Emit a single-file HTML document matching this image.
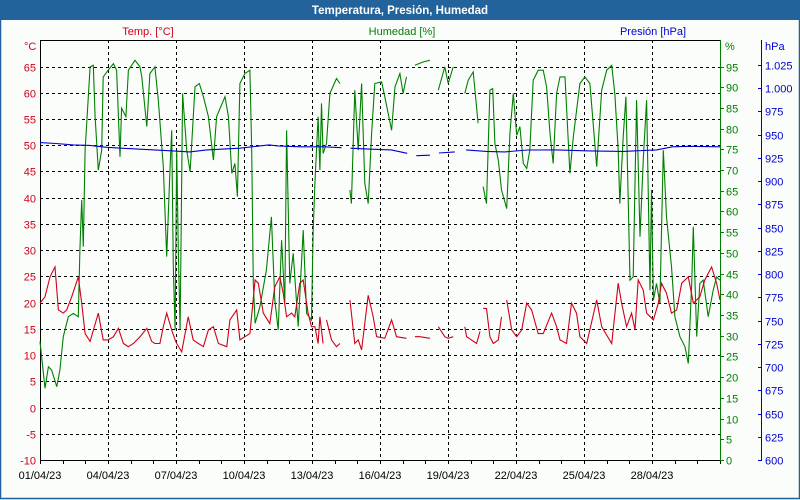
<!DOCTYPE html>
<html><head><meta charset="utf-8"><style>
body{margin:0;background:#fff;}
#wrap{position:relative;width:800px;height:500px;overflow:hidden;font-family:"Liberation Sans",sans-serif;}
svg text{font-family:"Liberation Sans",sans-serif;font-size:11px;}
</style></head><body>
<div id="wrap">
<svg id="chart" width="800" height="500" viewBox="0 0 800 500">
  <rect x="0" y="0" width="800" height="500" fill="#fbfdfb"/>
  <rect x="0.5" y="0.5" width="799" height="498" fill="none" stroke="#2060a0" stroke-width="1.5"/>
  <rect x="0" y="0" width="800" height="20" fill="#22639c"/>
  <text x="400" y="14" text-anchor="middle" fill="#fff" font-weight="bold" style="font-size:11.5px">Temperatura, Presión, Humedad</text>
  <text x="148" y="35" text-anchor="middle" fill="#d0001a">Temp. [°C]</text>
  <text x="402" y="35" text-anchor="middle" fill="#008000">Humedad [%]</text>
  <text x="653" y="35" text-anchor="middle" fill="#0000d0">Presión [hPa]</text>
  <text x="24" y="50" fill="#d0001a">°C</text>
  <text x="725" y="50" fill="#008000">%</text>
  <text x="765" y="50" fill="#0000d0">hPa</text>
  <g id="grid"></g>
  <g id="axes"></g>
  <g id="series"></g>
</svg>
</div>
<script>
// ---- data (days since 01/04/23) ----
const dateLabels = ["01/04/23","04/04/23","07/04/23","10/04/23","13/04/23","16/04/23","19/04/23","22/04/23","25/04/23","28/04/23"];
const tempTicks = [-10,-5,0,5,10,15,20,25,30,35,40,45,50,55,60,65];
const humTicks = [0,5,10,15,20,25,30,35,40,45,50,55,60,65,70,75,80,85,90,95];
const presTicks = [600,625,650,675,700,725,750,775,800,825,850,875,900,925,950,975,1000,1025];
const humTimes = [0,.22,.37,.51,.74,.88,1.03,1.25,1.47,1.69,1.76,1.84,1.91,1.99,2.21,2.35,2.43,2.57,2.72,2.79,3.01,3.24,3.38,3.53,3.60,3.79,3.90,4.19,4.41,4.49,4.71,4.85,5.07,5.22,5.44,5.59,5.74,5.81,5.88,5.96,6.03,6.10,6.18,6.29,6.47,6.62,6.84,7.03,7.21,7.43,7.65,7.79,8.16,8.31,8.46,8.60,8.71,8.82,9.04,9.26,9.34,9.41,9.49,
9.70,9.99,10.21,10.36,10.51,10.66,10.80,10.88,11.02,11.17,11.39,11.61,11.76,11.98,12.05,12.13,12.27,12.35,12.42,12.49,12.64,12.79,13.08,13.23,13.4,
13.67,13.74,13.89,14.04,14.19,14.33,14.48,14.63,14.77,15.07,15.21,15.51,15.66,15.88,16.02,16.17,16.3,16.54,16.91,17.20,17.4,17.57,17.86,18.01,18.23,18.5,18.74,18.89,19.11,19.33,19.45,19.55,19.70,
19.85,19.97,20.07,20.22,20.36,20.59,20.73,20.88,21.03,21.17,21.32,21.47,21.61,21.76,21.98,22.20,22.35,22.50,22.64,22.79,22.94,23.16,23.38,23.53,23.82,24.04,24.26,24.56,24.78,25.00,25.22,25.36,25.51,25.58,25.73,25.85,26.03,26.17,26.32,26.47,26.62,26.76,26.91,26.98,27.06,27.20,27.35,27.50,27.64,27.86,28.01,28.23,28.45,28.60,28.75,28.82,28.97,29.11,29.26,29.48,29.70,29.85,30.0];
const humValues = [28.6,17.3,22.5,21.7,17.7,21.7,29.8,34.6,35.4,34.6,50.7,62.8,51.5,74.8,94.9,95.3,82.9,70,74.8,92.5,94.1,95.7,94.1,73.2,84.9,82.9,94.1,96.5,94.9,92.5,80.5,93.3,94.9,86.9,70.8,49.1,70.8,79.6,46.7,31.4,74.8,50.7,31.4,88.5,74.8,69.6,90.1,90.9,87.7,82.9,72.4,82.9,87.7,82.9,69.2,71.6,63.6,90.9,93.3,94.1,74.8,42.6,33,
37,45.9,58.7,38.6,31.4,53.1,37.8,79.6,42.6,49.9,32.2,55.5,35.4,33.8,54.7,66.8,82.9,70,86.1,74,76.4,88.5,92.1,90.9,null,
65.2,61.9,89.3,74.8,90.9,66.8,61.9,78.8,90.9,91.3,87.7,79.6,90.1,93.3,88.5,92.5,null,95.3,96.1,96.5,null,89.3,94.9,90.9,94.9,null,88.5,91.7,93.7,81.3,null,66,61.9,
89.3,89.7,76.4,72.4,65.2,60.7,78.8,88.5,78.4,80.5,71.6,70.4,74.8,91.7,94.1,94.1,90.1,78.8,71.6,88.5,92.5,92.5,69.2,78,90.9,92.5,90.9,70.8,89.3,94.1,95.3,88.5,74.8,61.9,78,87.7,43.4,44.2,86.9,53.9,73.2,86.9,41,65.2,38.6,42.6,37.8,74.8,58.7,46.7,34.6,29.8,27.4,23.3,42.6,56.3,29.8,42.6,43.4,34.6,41,44.2,43.4];
const tempTimes = [0,.22,.44,.66,.81,1.03,1.18,1.40,1.69,1.84,1.99,2.21,2.57,2.79,3.01,3.24,3.46,3.68,3.90,4.12,4.41,4.71,4.93,5.07,5.29,5.44,5.59,5.81,5.96,6.03,6.25,6.54,6.76,6.99,7.21,7.43,7.65,7.87,8.24,8.38,8.68,8.82,9.04,9.26,9.49,9.63,
9.85,10.14,10.36,10.58,10.73,10.88,11.10,11.24,11.46,11.61,11.83,11.98,12.13,12.27,12.35,12.49,12.56,12.64,12.86,13.08,13.23,13.4,13.67,13.89,14.04,14.19,14.48,14.70,14.85,15.21,15.51,15.73,16.17,16.3,16.54,16.76,17.20,17.4,17.57,17.86,18.01,18.23,18.5,18.74,18.82,19.26,19.41,19.48,19.55,19.70,19.85,
20.0,20.22,20.36,20.48,20.59,20.81,21.03,21.25,21.47,21.69,21.98,22.20,22.57,22.79,22.94,23.23,23.45,23.67,23.82,24.12,24.56,24.78,25.22,25.51,25.66,25.88,26.10,26.25,26.39,26.61,26.76,27.06,27.28,27.42,27.64,27.86,28.09,28.31,28.60,28.82,29.11,29.33,29.63,29.85,30.0];
const tempValues = [19.9,21.1,24.9,26.8,18.6,18,18.6,21.1,24.9,19.9,14.1,12.6,18,12.9,12.9,13.5,15.1,12.2,11.6,12.2,13.5,15.1,12.6,12.2,12.2,15.4,18,14.8,12.9,12.2,10.6,17.3,12.9,12.2,11.6,14.8,15.4,12.2,11.6,16.7,18.6,12.9,13.5,14.1,24.3,23.7,
18,16,23,24.9,21.8,17.3,18,17.3,23.7,24.3,18,15.4,15.4,12.2,17.3,12.2,null,16.7,12.9,11.6,12.2,null,20.5,12.2,12.9,11,21.4,17.3,13.5,13.2,16.7,13.5,13.2,null,13.5,13.5,13.2,null,15.4,13.5,13.2,13.5,null,15.4,13.5,12.2,14.5,null,18.9,18.9,13.5,
12.2,12.9,17.3,null,20.5,14.8,13.5,14.8,19.9,18.6,14.1,14.1,18,15.4,12.9,12.2,19.9,18,13.5,12.2,20.5,15.4,12.2,23.7,19.9,15.4,18,14.8,24.3,22.4,18,16.7,19.9,23.7,21.8,18,18.6,23.7,24.9,19.9,21.1,24.3,26.8,23.7,20.5];
const presTimes = [0,.7,1.47,2.2,2.94,4.41,5.88,6.6,7.35,8.82,10.1,10.5,11.5,12.5,13.3,13.45,13.7,14.5,15.5,16.2,16.35,16.6,17.2,17.35,17.6,18.3,18.45,18.8,19.7,20.5,21.5,22.8,24.26,25.73,27.2,27.9,28.6,30];
const presValues = [941.5,940.5,939,938.5,936.5,934.4,932.6,931.5,933.7,935.5,939,938,937,937,936,null,935.5,934.5,933.7,930,null,927.4,928,null,930.3,931.5,null,933.7,932,931.5,933.5,933.7,932.6,932,933.7,937,937.5,937];

// ---- axes ----
const X0=40, X1=720, Y0=460, Y1=40;
const xScale = d => X0 + d*(X1-X0)/30;
const tY = v => Y0 - (v+10)*(Y0-66.5)/75;
const hY = v => Y0 - v*(Y0-66.5)/95;
const pY = v => Y0 - (v-600)*(Y0-65)/425;
const NS="http://www.w3.org/2000/svg";
function mk(tag, attrs, parent){const e=document.createElementNS(NS,tag);for(const k in attrs)e.setAttribute(k,attrs[k]);parent.appendChild(e);return e;}
const grid=document.getElementById('grid'), axes=document.getElementById('axes'), series=document.getElementById('series');

tempTicks.forEach(v=>{
  const y=Math.round(tY(v))+0.5;
  if(v>-10){const g=mk('line',{x1:X0,x2:X1,y1:y,y2:y,stroke:'#000','stroke-dasharray':'3,3'},grid);
  
  }
  const t=mk('text',{x:36,y:y+4,'text-anchor':'end',fill:'#d0001a'},axes);t.textContent=v;
  
  
});
humTicks.forEach(v=>{
  const y=Math.round(hY(v))+0.5;
  mk('line',{x1:X1,x2:X1+4,y1:y,y2:y,stroke:'#008000'},axes);
  const t=mk('text',{x:726,y:y+4,fill:'#008000'},axes);t.textContent=v;
  
  
});
presTicks.forEach(v=>{
  const y=Math.round(pY(v))+0.5;
  mk('line',{x1:758,x2:761,y1:y,y2:y,stroke:'#0000d0'},axes);
  const t=mk('text',{x:765,y:y+4,fill:'#0000d0'},axes);t.textContent=v.toLocaleString('de-DE');
  
  
});
for(let d=0; d<=30; d++){
  const x=Math.round(xScale(d))+0.5;
  mk('line',{x1:x,x2:x,y1:Y0,y2:Y0+4,stroke:'#000'},axes);
  if(d%3===0 && d>0 && d<30){const g=mk('line',{x1:x,x2:x,y1:Y1,y2:Y0,stroke:'#000','stroke-dasharray':'3,3'},grid);
    
    }
}
dateLabels.forEach((s,i)=>{
  const t=mk('text',{x:xScale(i*3),y:479,'text-anchor':'middle',fill:'#000'},axes);t.textContent=s;
  
  
});
mk('line',{x1:X0+0.5,x2:X0+0.5,y1:Y1,y2:Y0+4,stroke:'#000'},axes);
mk('line',{x1:X0,x2:X1,y1:Y1+0.5,y2:Y1+0.5,stroke:'#000'},axes);
mk('line',{x1:X0,x2:X1,y1:Y0+0.5,y2:Y0+0.5,stroke:'#000'},axes);
mk('line',{x1:X1+0.5,x2:X1+0.5,y1:Y1,y2:Y0+1,stroke:'#008000'},axes);
mk('line',{x1:761.5,x2:761.5,y1:Y1,y2:Y0+1,stroke:'#0000d0'},axes);

function pathOf(times, vals, yf){
  let d='', pen=false;
  for(let i=0;i<times.length;i++){
    if(vals[i]===null){pen=false;continue;}
    d+=(pen?'L':'M')+xScale(times[i]).toFixed(1)+' '+yf(vals[i]).toFixed(1)+' ';pen=true;
  }
  return d;
}
const hp=mk('path',{d:pathOf(humTimes,humValues,hY),fill:'none',stroke:'#008000','stroke-width':1.1},series);


const pp=mk('path',{d:pathOf(presTimes,presValues,pY),fill:'none',stroke:'#0000d0','stroke-width':1.1},series);


const tp=mk('path',{d:pathOf(tempTimes,tempValues,tY),fill:'none',stroke:'#d0001a','stroke-width':1.1},series);


</script>
</body></html>
